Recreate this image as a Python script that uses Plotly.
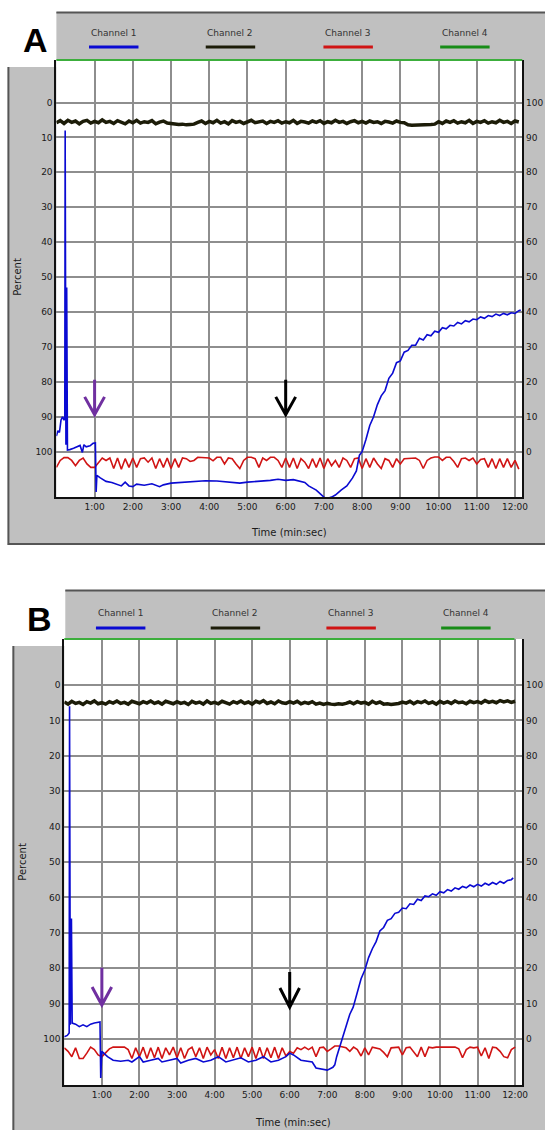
import plotly.graph_objects as go

W, H = 551, 1130


def px(x):
    return x / W


def py(y):
    return 1 - y / H


# ---------------- data ----------------
minute_ticks = [1, 2, 3, 4, 5, 6, 7, 8, 9, 10, 11, 12]
minute_labels = ["1:00", "2:00", "3:00", "4:00", "5:00", "6:00", "7:00",
                 "8:00", "9:00", "10:00", "11:00", "12:00"]
percent_ticks = [0, 10, 20, 30, 40, 50, 60, 70, 80, 90, 100]
channel_names = ["Channel 1", "Channel 2", "Channel 3", "Channel 4"]

# Panel A - Channel 1 (blue, left scale)
ch1_A_t = [0.00, 0.04, 0.08, 0.12, 0.16, 0.20, 0.22, 0.23, 0.25, 0.27, 0.29,
           0.35, 0.45, 0.55, 0.62, 0.68, 0.72, 0.78, 0.88, 0.96, 1.02, 1.04, 1.06,
           1.15, 1.30, 1.45, 1.60, 1.70, 1.80, 1.90, 2.00, 2.10, 2.30, 2.50, 2.70,
           2.80, 3.00, 3.30, 3.60, 3.90, 4.20, 4.50, 4.80, 5.00, 5.30, 5.60, 5.80,
           6.00, 6.20, 6.40, 6.50, 6.60, 6.80, 6.95, 7.05, 7.20, 7.30, 7.45, 7.60,
           7.75, 7.85, 7.93, 8.00, 8.10, 8.20, 8.30, 8.40, 8.50, 8.60, 8.70, 8.80,
           8.90, 9.00, 9.10, 9.20, 9.30, 9.40, 9.50, 9.60, 9.70, 9.80, 9.90, 10.00,
           10.10, 10.20, 10.30, 10.40, 10.50, 10.60, 10.70, 10.80, 10.90, 11.00,
           11.10, 11.20, 11.30, 11.40, 11.50, 11.60, 11.70, 11.80, 11.90, 12.00,
           12.10, 12.15]
ch1_A_v = [95.5, 94.0, 94.5, 91.0, 90.0, 91.0, 90.0, 8.0, 98.0, 53.0, 99.5,
           99.4, 99.0, 98.5, 98.2, 100.2, 98.0, 98.6, 98.3, 97.6, 97.5, 111.5, 106.8,
           107.5, 108.5, 108.8, 109.3, 109.8, 108.7, 109.8, 110.0, 109.3, 109.6, 109.2, 110.0,
           109.5, 109.0, 108.8, 108.6, 108.3, 108.4, 108.8, 109.0, 108.7, 108.5, 108.2, 107.9,
           108.2, 108.0, 108.4, 108.8, 109.8, 111.0, 112.5, 113.5, 113.0, 112.4, 111.0, 109.8,
           107.5, 105.5, 101.0, 100.0, 96.5, 92.5, 90.0, 86.5, 84.0, 82.5, 79.0, 77.5,
           74.5, 74.0, 71.5, 71.0, 69.5, 69.5, 67.5, 68.0, 66.5, 66.8, 65.5, 65.8,
           64.5, 64.8, 63.8, 64.0, 63.0, 63.4, 62.5, 62.8, 62.0, 62.2,
           61.4, 61.8, 61.0, 61.3, 60.6, 61.0, 60.4, 60.8, 60.2, 60.4,
           59.6, 59.4]

# Panel A - Channel 3 (red, left scale), sampled every 0.1 min from 0:00
ch3_A_v = [104.5, 102.5, 101.7, 101.7, 102.5, 104.0, 102.5, 101.8, 103.5, 104.5,
           104.5, 103.0, 101.8, 102.5, 101.8, 104.8, 101.8, 105.0, 102.0, 104.5,
           101.8, 104.5, 102.0, 101.8, 103.0, 101.8, 104.8, 102.0, 104.5, 101.8,
           104.8, 102.0, 104.5, 101.8, 102.0, 102.8, 102.5, 101.6, 101.6, 101.6,
           101.8, 102.6, 101.6, 101.6, 103.5, 101.8, 102.0, 103.5, 104.8, 102.5,
           101.6, 101.6, 102.0, 104.5, 101.8, 102.5, 101.6, 101.6, 102.5, 104.5,
           101.8, 104.5, 101.8, 104.8, 102.0, 103.0, 104.8, 102.0, 104.5, 101.8,
           104.8, 102.0, 104.0, 102.5, 104.5, 101.8, 102.5, 104.5, 102.0, 101.8,
           104.8, 102.0, 104.5, 101.8, 103.5, 104.8, 102.0, 102.5, 104.5, 102.0,
           103.5, 102.0, 102.0, 102.0, 101.8, 102.5, 104.8, 102.5, 101.8, 101.5,
           101.5, 102.5, 101.6, 101.6, 102.8, 104.5, 102.0, 101.8, 102.5, 101.8,
           103.5, 102.2, 102.0, 104.5, 102.0, 104.8, 102.0, 104.5, 102.0, 104.5,
           102.5, 105.0]

# Panel A - Channel 2 (dark, right scale), sampled every 0.1 min from 0:00
ch2_A_v = [94.2, 94.8, 94.0, 94.9, 94.3, 94.7, 93.9, 94.6, 94.9, 94.1,
           94.6, 94.2, 95.0, 94.3, 94.6, 94.0, 94.8, 94.4, 93.9, 94.7,
           94.2, 94.9, 94.1, 94.5, 94.3, 94.8, 93.9, 94.4, 94.7, 94.1,
           94.0, 93.7, 93.7, 93.8, 93.6, 93.7, 93.8, 94.3, 94.7, 94.0,
           94.6, 94.2, 94.9, 94.1, 94.5, 93.9, 94.8, 94.3, 94.6, 94.0,
           94.5, 94.9, 94.2, 94.4, 94.7, 94.0, 94.6, 94.3, 94.8, 94.1,
           94.5, 94.2, 94.9, 94.0, 94.6, 94.4, 94.1, 94.7, 94.3, 94.8,
           94.0, 94.5, 94.2, 94.9, 94.3, 94.6, 94.0, 94.5, 94.8, 94.2,
           94.6, 94.1, 94.7, 94.3, 94.5, 94.0, 94.6, 94.4, 94.1, 94.7,
           94.3, 94.2, 93.6, 93.5, 93.5, 93.6, 93.5, 93.6, 93.7, 93.8,
           94.5, 94.0, 94.7, 94.3, 94.8, 94.1, 94.5, 94.2, 94.9, 94.0,
           94.6, 94.3, 94.8, 94.1, 94.5, 94.2, 94.9, 94.3, 94.6, 94.0,
           94.7, 94.4]

# Panel B - Channel 1 (blue, left scale)
ch1_B_t = [0.00, 0.08, 0.13, 0.14, 0.16, 0.19, 0.21, 0.30, 0.40, 0.50, 0.60,
           0.70, 0.80, 0.95, 0.97, 1.00, 1.05, 1.15, 1.30, 1.50, 1.70, 1.80, 2.00,
           2.10, 2.30, 2.50, 2.60, 2.80, 3.00, 3.10, 3.30, 3.50, 3.70, 3.90, 4.10,
           4.30, 4.50, 4.70, 4.90, 5.10, 5.30, 5.50, 5.70, 5.90, 6.00, 6.10, 6.30,
           6.50, 6.60, 6.70, 6.85, 7.00, 7.15, 7.20, 7.25, 7.37, 7.50, 7.60, 7.69,
           7.80, 7.90, 8.00, 8.10, 8.20, 8.30, 8.40, 8.50, 8.60, 8.70, 8.80, 8.90,
           9.00, 9.10, 9.20, 9.30, 9.40, 9.50, 9.60, 9.70, 9.80, 9.90, 10.00, 10.10,
           10.20, 10.30, 10.40, 10.50, 10.60, 10.70, 10.80, 10.90, 11.00, 11.10,
           11.20, 11.30, 11.40, 11.50, 11.60, 11.70, 11.80, 11.90, 11.95]
ch1_B_v = [99.4, 99.0, 98.3, 6.0, 96.0, 66.0, 95.5, 95.8, 96.5, 96.0, 96.5,
           95.8, 95.5, 95.2, 111.0, 103.5, 104.0, 105.0, 106.0, 106.3, 106.0, 106.5, 105.0,
           106.5, 106.0, 105.5, 106.5, 106.0, 105.5, 106.8, 106.0, 105.5, 106.5, 106.0, 105.0,
           106.5, 106.0, 105.3, 106.5, 106.0, 105.0, 106.5, 106.0, 105.0, 104.0, 104.5, 106.0,
           106.3, 106.5, 108.2, 108.5, 108.8, 108.0, 107.3, 105.0, 101.0, 96.5, 93.0, 91.0,
           87.0, 83.0, 80.5, 77.0, 74.5, 72.5, 69.5, 68.5, 66.5, 66.0, 64.5, 64.2,
           63.0, 63.2, 61.8, 62.0, 60.5, 60.9, 59.6, 59.8, 59.0, 59.4, 58.4, 58.7,
           57.8, 58.2, 57.3, 57.7, 56.9, 57.3, 56.5, 57.0, 56.3, 56.8,
           56.0, 56.5, 55.8, 56.3, 55.5, 56.0, 55.2, 55.0, 54.5]

# Panel B - Channel 3 (red, left scale), sampled every 0.1 min from 0:00
ch3_B_v = [102.5, 103.5, 105.0, 102.5, 105.5, 105.5, 104.0, 102.3, 103.0, 104.5,
           105.0, 104.0, 102.8, 102.3, 102.3, 102.5, 102.3, 103.0, 105.5, 102.5,
           105.0, 102.3, 105.5, 102.5, 105.3, 102.3, 105.5, 102.5, 104.5, 102.3,
           105.3, 102.5, 105.5, 103.0, 102.3, 105.0, 102.5, 105.5, 102.3, 104.5,
           103.0, 105.5, 102.3, 105.5, 102.5, 105.3, 102.3, 105.5, 102.5, 105.0,
           102.3, 105.5, 102.3, 105.5, 102.5, 105.3, 102.3, 105.5, 102.5, 104.8,
           103.5, 104.0, 102.5, 103.0, 102.3, 103.0, 102.3, 105.0, 102.5, 102.3,
           103.5, 102.8, 102.0, 102.0, 102.2, 102.5, 103.5, 102.3, 103.0, 104.8,
           102.5, 104.5, 102.3, 102.5, 102.8, 103.8, 105.0, 102.5, 102.3, 102.3,
           104.5, 102.5, 102.3, 103.5, 105.0, 102.3, 105.0, 102.3, 102.5, 102.3,
           102.3, 102.5, 102.3, 102.5, 102.3, 102.8, 105.3, 103.0, 102.3, 102.5,
           102.3, 104.8, 102.5, 105.5, 102.3, 102.5, 103.5, 105.0, 105.3, 103.0,
           102.3]

# Panel B - Channel 2 (dark, right scale), sampled every 0.1 min from 0:00
ch2_B_v = [95.2, 94.6, 95.4, 94.8, 95.1, 94.5, 95.3, 94.9, 95.5, 94.7,
           95.0, 94.6, 95.3, 94.9, 95.5, 94.8, 95.1, 94.6, 95.4, 95.0,
           94.7, 95.3, 94.9, 95.5, 94.8, 95.2, 94.6, 95.4, 95.0, 94.7,
           95.3, 94.8, 95.1, 94.5, 95.4, 94.9, 95.2, 94.6, 95.5, 94.8,
           95.1, 94.7, 95.4, 95.0, 94.6, 95.3, 94.9, 95.5, 94.8, 95.2,
           94.6, 95.4, 95.0, 95.6, 94.8, 95.2, 94.7, 95.5, 95.0, 94.8,
           95.3, 94.9, 95.4, 94.7, 95.1, 94.8, 95.3, 94.6, 94.9, 94.5,
           94.8, 94.6, 94.5, 94.7, 94.6, 94.8, 95.2, 94.7, 95.3, 94.9,
           95.1, 94.6, 95.4, 94.8, 95.2, 94.6, 94.7, 94.5, 94.6, 94.8,
           95.2, 94.9, 95.4, 94.7, 95.3, 95.0, 95.5, 94.8, 95.2, 94.6,
           95.4, 94.9, 95.3, 94.8, 95.5, 95.0, 95.2, 94.7, 95.4, 95.0,
           95.3, 94.9, 95.6, 95.1, 95.4, 95.0, 95.6, 95.2, 95.5, 95.1,
           95.4]

# arrows: (time in min, shaft top, head start, tip) on left percent scale
arrows_A = [(1.0, 79.4, 84.3, 89.4, "#7030a0"), (6.0, 79.4, 84.3, 89.4, "#000000")]
arrows_B = [(1.0, 79.9, 85.3, 90.4, "#7030a0"), (6.0, 81.1, 85.6, 91.0, "#000000")]

# ---------------- styling ----------------
BLUE = "#0a0ad2"
RED = "#d01414"
DARK = "#1c1c08"
GREEN_LEG = "#178c17"
GREEN_TOP = "#3cae3c"
GRAY = "#c0c0c0"
BORDER = "#555555"
GRID = "#8e8e8e"
TXT = "#1a1a1a"
FONT = "DejaVu Sans"


def times(vals):
    return [round(i * 0.1, 2) for i in range(len(vals))]


fig = go.Figure()

# Panel A traces
fig.add_trace(go.Scatter(x=times(ch2_A_v), y=ch2_A_v, mode="lines", xaxis="x", yaxis="y2",
                         line=dict(color=DARK, width=3.5), showlegend=False))
fig.add_trace(go.Scatter(x=times(ch3_A_v), y=ch3_A_v, mode="lines", xaxis="x", yaxis="y",
                         line=dict(color=RED, width=1.6), showlegend=False))
fig.add_trace(go.Scatter(x=ch1_A_t, y=ch1_A_v, mode="lines", xaxis="x", yaxis="y",
                         line=dict(color=BLUE, width=1.6), showlegend=False))
# Panel B traces
fig.add_trace(go.Scatter(x=times(ch2_B_v), y=ch2_B_v, mode="lines", xaxis="x2", yaxis="y4",
                         line=dict(color=DARK, width=3.5), showlegend=False))
fig.add_trace(go.Scatter(x=times(ch3_B_v), y=ch3_B_v, mode="lines", xaxis="x2", yaxis="y3",
                         line=dict(color=RED, width=1.6), showlegend=False))
fig.add_trace(go.Scatter(x=ch1_B_t, y=ch1_B_v, mode="lines", xaxis="x2", yaxis="y3",
                         line=dict(color=BLUE, width=1.6), showlegend=False))

tickfont = dict(family=FONT, size=9, color=TXT)


def xaxis(dom, anchor):
    return dict(domain=dom, anchor=anchor, range=[0, 12.19], tickvals=minute_ticks,
                ticktext=minute_labels, showgrid=True, gridcolor=GRID, gridwidth=1.6,
                showline=True, linecolor="#111111", linewidth=2, ticks="",
                zeroline=False, tickfont=tickfont, fixedrange=True)


def yleft(dom, anchor, rng):
    return dict(domain=dom, anchor=anchor, range=rng, tickvals=percent_ticks,
                showgrid=True, gridcolor=GRID, gridwidth=1.6, showline=True,
                linecolor="#111111", linewidth=2, ticks="", zeroline=False,
                tickfont=tickfont, fixedrange=True)


def yright(over, anchor, rng):
    return dict(overlaying=over, anchor=anchor, side="right", range=rng,
                tickvals=percent_ticks, showgrid=False, showline=True,
                linecolor="#111111", linewidth=2, ticks="", zeroline=False,
                tickfont=tickfont, fixedrange=True)


shapes = []


def rect(x0, y0, x1, y1, color):
    shapes.append(dict(type="rect", xref="paper", yref="paper", x0=px(x0), x1=px(x1),
                       y0=py(y1), y1=py(y0), fillcolor=color, line=dict(width=0), layer="below"))


def hline(x0, x1, y, color, width, layer="below"):
    shapes.append(dict(type="line", xref="paper", yref="paper", x0=px(x0), x1=px(x1),
                       y0=py(y), y1=py(y), line=dict(color=color, width=width), layer=layer))


def vline(x, y0, y1, color, width):
    shapes.append(dict(type="line", xref="paper", yref="paper", x0=px(x), x1=px(x),
                       y0=py(y0), y1=py(y1), line=dict(color=color, width=width), layer="below"))


# Panel A frame
rect(57, 12, 551, 545, GRAY)
rect(8, 67, 551, 545, GRAY)
rect(57, 60, 528, 497, "white")
hline(57, 551, 12.5, BORDER, 2)
vline(8.5, 67, 545, BORDER, 2)
hline(8, 551, 544, BORDER, 2)
# Panel B frame
rect(66, 590, 551, 1130, GRAY)
rect(13, 646, 551, 1130, GRAY)
rect(65, 639, 528, 1085, "white")
hline(66, 551, 590.5, BORDER, 2)
vline(13.5, 646, 1130, BORDER, 2)

# Channel 4 line pinned along the top of each plot
shapes.append(dict(type="line", xref="x domain", yref="y domain", x0=0, x1=1, y0=1, y1=1,
                   line=dict(color=GREEN_TOP, width=2), layer="above"))
shapes.append(dict(type="line", xref="x2 domain", yref="y3 domain", x0=0, x1=0.983, y0=1, y1=1,
                   line=dict(color=GREEN_TOP, width=2), layer="above"))

# arrows
for arrows, xr, yr, hw in [(arrows_A, "x", "y", 0.26), (arrows_B, "x2", "y3", 0.26)]:
    for t, top, head, tip, col in arrows:
        path = (f"M {t},{top} L {t},{tip} M {t - hw},{head} L {t},{tip} L {t + hw},{head}")
        shapes.append(dict(type="path", xref=xr, yref=yr, path=path,
                           line=dict(color=col, width=3), layer="above"))

annotations = []


def text(x, y, s, size, color=TXT, angle=0, family=FONT):
    annotations.append(dict(xref="paper", yref="paper", x=px(x), y=py(y), text=s,
                            showarrow=False, xanchor="center", yanchor="middle",
                            font=dict(family=family, size=size, color=color),
                            textangle=angle))


leg_colors = [BLUE, DARK, RED, GREEN_LEG]
for centers, ty, ly in [([115, 233, 352, 470], 33, 47), ([122, 238, 355, 471], 613, 628)]:
    for cx, name, col in zip(centers, channel_names, leg_colors):
        text(cx, ty, name, 9, color="#333333")
        hline(cx - 25, cx + 25, ly, col, 3, layer="above")

text(36, 40, "<b>A</b>", 34, color="#000000", family="Liberation Sans, Arial")
text(40, 619, "<b>B</b>", 34, color="#000000", family="Liberation Sans, Arial")
text(17, 277, "Percent", 10, angle=-90)
text(22, 862, "Percent", 10, angle=-90)
text(292, 532, "Time (min:sec)", 10)
text(296, 1122, "Time (min:sec)", 10)

fig.update_layout(
    width=W, height=H, autosize=False,
    margin=dict(l=0, r=0, t=0, b=0),
    paper_bgcolor="white", plot_bgcolor="white",
    showlegend=False,
    xaxis=xaxis([px(57), px(528)], "y"),
    yaxis=yleft([py(497), py(60)], "x", [112.97, -12.17]),
    yaxis2=yright("y", "x", [-12.97, 112.17]),
    xaxis2=xaxis([px(65), px(528)], "y3"),
    yaxis3=yleft([py(1085), py(639)], "x2", [113.0, -13.0]),
    yaxis4=yright("y3", "x2", [-13.0, 113.0]),
    shapes=shapes,
    annotations=annotations,
)

fig.write_html("out.html")
